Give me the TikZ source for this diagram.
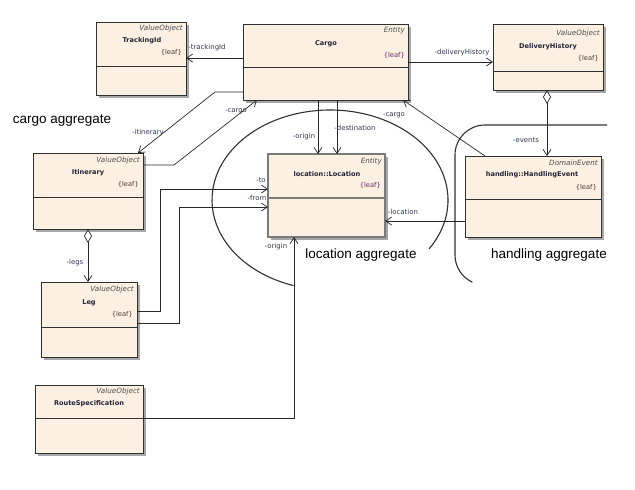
\documentclass[tikz,border=0pt]{standalone}
\usepackage{fontspec}
\newfontfamily\umlf{DejaVu Sans}
\newfontfamily\aggf{Liberation Sans}
\usetikzlibrary{arrows.meta,shadows,calc}
\definecolor{boxfill}{HTML}{FBF0E2}
\definecolor{boxline}{HTML}{303030}
\definecolor{locline}{HTML}{7A7A7A}
\definecolor{shadowc}{HTML}{A8A8A8}
\definecolor{stc}{HTML}{505050}
\definecolor{nmc}{HTML}{252535}
\definecolor{leafc}{HTML}{6A2A6A}
\definecolor{leafd}{HTML}{4A3A30}
\definecolor{lblc}{HTML}{353550}
\definecolor{linec}{HTML}{282828}
\definecolor{aggc}{HTML}{303030}
\newcommand\umlclass[7][]{%
  \node[cls, minimum width=#5pt, minimum height=#6pt, #1] (#2) at (#3,#4) {};
  \draw[divl, #1] (#2.west |- 0,#7) -- (#2.east |- 0,#7);
}
\begin{document}
\begin{tikzpicture}[x=1pt,y=-1pt,
  cls/.style={draw=boxline, fill=boxfill, line width=0.9pt, inner sep=0pt, outer sep=0pt, anchor=north west,
    drop shadow={shadow xshift=2.5pt, shadow yshift=-2.5pt, fill=shadowc, opacity=1}},
  divl/.style={draw=boxline, line width=0.9pt},
  grayb/.style={draw=locline, line width=1.4pt},
  stereo/.style={font=\umlf\itshape\fontsize{7.2}{8}\selectfont, text=stc, inner sep=0pt, anchor=east},
  nm/.style={font=\umlf\bfseries\fontsize{6.6}{8}\selectfont, text=nmc, inner sep=0pt},
  leaf/.style={font=\umlf\fontsize{6.7}{8}\selectfont, text=leafd, inner sep=0pt, anchor=east},
  lbl/.style={font=\umlf\fontsize{6.9}{8}\selectfont, text=lblc, inner sep=0pt},
  conn/.style={draw=linec, line width=0.7pt, -{Straight Barb[length=6pt,width=8pt]}},
  dconn/.style={draw=linec, line width=0.7pt, {Diamond[open,length=14pt,width=8pt]}-{Straight Barb[length=6pt,width=8pt]}},
  aggline/.style={draw=aggc, line width=1.1pt},
  agg/.style={font=\aggf\fontsize{13.5}{16}\selectfont, inner sep=0pt}
]
\useasboundingbox (0,0) rectangle (635,490);
\fill[white] (0,0) rectangle (635,490);

% aggregate boundaries
\draw[aggline] (330,200) ++(33:118 and 90) arc[start angle=33,end angle=-252,x radius=118,y radius=90];
\draw[aggline] (607,125) -- (485,125) arc[start angle=270,end angle=180,radius=30] -- (455,255) arc[start angle=180,end angle=115,radius=30];

% classes
\umlclass{trk}{96}{22}{90}{73}{66}
\umlclass{cargo}{243}{24}{165}{76}{67}
\umlclass{dh}{493}{24}{110}{66}{71}
\umlclass{itin}{33}{153}{110}{76}{197}
\umlclass{leg}{41}{282}{96}{75}{327}
\umlclass{rs}{35}{385}{108}{68}{418}
\umlclass[grayb]{loc}{268}{154}{117}{83}{198}
\umlclass{he}{465}{156}{136}{81}{199}

% class texts
\node[stereo] (trkS) at (183,29) {ValueObject};
\node[nm] (trkN) at (142,41) {TrackingId};
\node[leaf] (trkL) at (182,52) {\{leaf\}};

\node[stereo] (cargoS) at (405,31) {Entity};
\node[nm] (cargoN) at (326,44) {Cargo};
\node[leaf, text=leafc] (cargoL) at (405,55) {\{leaf\}};

\node[stereo] (dhS) at (600,34) {ValueObject};
\node[nm] (dhN) at (548,47) {DeliveryHistory};
\node[leaf] (dhL) at (599,58) {\{leaf\}};

\node[stereo] (itinS) at (140,161) {ValueObject};
\node[nm] (itinN) at (88,173) {Itinerary};
\node[leaf] (itinL) at (139,184) {\{leaf\}};

\node[stereo] (legS) at (134,290) {ValueObject};
\node[nm] (legN) at (89,303) {Leg};
\node[leaf] (legL) at (133,314) {\{leaf\}};

\node[stereo] (rsS) at (140,392) {ValueObject};
\node[nm] (rsN) at (89,404) {RouteSpecification};

\node[stereo] (locS) at (382,162) {Entity};
\node[nm] (locN) at (327,174) {location::Location};
\node[leaf, text=leafc] (locL) at (381,185) {\{leaf\}};

\node[stereo] (heS) at (598,163) {DomainEvent};
\node[nm] (heN) at (532,175) {handling::HandlingEvent};
\node[leaf] (heL) at (597,187) {\{leaf\}};

% connectors
\draw[conn] (cargo.west |- 0,58) -- (trk.east |- 0,58);
\draw[conn] (cargo.east |- 0,62) -- (dh.west |- 0,62);
\draw[conn] (cargo.west |- 0,92) -- (215,92) -- ([xshift=-5pt]itin.north east);
\draw[conn] (itin.east |- 0,165) -- (174,165) -- ([xshift=14pt]cargo.south west);
\draw[conn] (cargo.south -| 318,0) -- (loc.north -| 318,0);
\draw[conn] (cargo.south -| 337,0) -- (loc.north -| 337,0);
\draw[conn] ([xshift=20pt]he.north west) -- ([xshift=-5pt]cargo.south east);
\draw[dconn] (dh.south -| 547,0) -- (he.north -| 547,0);
\draw[conn] (he.west |- 0,221) -- (loc.east |- 0,221);
\draw[dconn] (itin.south -| 88,0) -- (leg.north -| 88,0);
\draw[conn] (leg.east |- 0,311) -- (160,311) -- (160,189) -- (loc.west |- 0,189);
\draw[conn] (leg.east |- 0,323) -- (179,323) -- (179,207) -- (loc.west |- 0,207);
\draw[conn] (rs.east |- 0,418) -- (294,418) -- (loc.south -| 294,0);

% connector labels
\node[lbl] (l1) at (207,48) {-trackingId};
\node[lbl] (l2) at (462,53) {-deliveryHistory};
\node[lbl] (l3) at (148,133) {-itinerary};
\node[lbl] (l4) at (236,111) {-cargo};
\node[lbl] (l5) at (304,137) {-origin};
\node[lbl] (l6) at (355,128) {-destination};
\node[lbl] (l7) at (394,115) {-cargo};
\node[lbl] (l8) at (526,140) {-events};
\node[lbl] (l9) at (403,212) {-location};
\node[lbl] (l10) at (75,263) {-legs};
\node[lbl] (l11) at (261,180) {-to};
\node[lbl] (l12) at (257,198) {-from};
\node[lbl] (l13) at (276,247) {-origin};

% aggregate labels
\node[agg] (cargoagg) at (62,121) {cargo aggregate};
\node[agg] (locagg) at (361,255) {location aggregate};
\node[agg] (hagg) at (549,255) {handling aggregate};
\end{tikzpicture}
\end{document}
